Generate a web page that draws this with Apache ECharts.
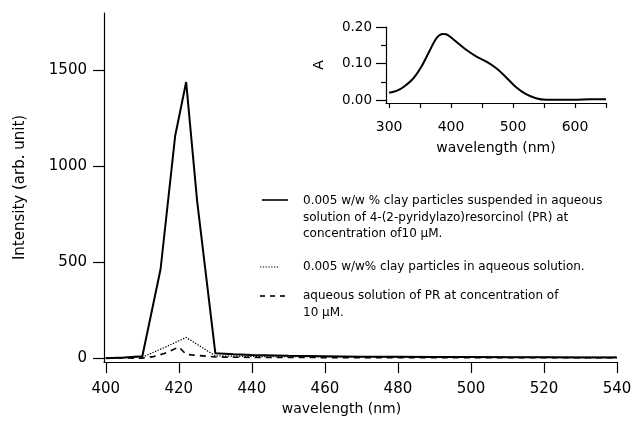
<!DOCTYPE html>
<html>
<head>
<meta charset="utf-8">
<script src="https://cdn.jsdelivr.net/npm/echarts@6/dist/echarts.min.js"></script>
<style>
html,body{margin:0;padding:0;background:#fff;}
#chart{width:635px;height:422px;}
</style>
</head>
<body>
<div id="chart"></div>
<script>
// ---- Main chart data (fluorescence intensity vs wavelength, nm) ----
const solidWl  = [400, 405, 410, 415, 419, 422, 425, 430, 435, 440, 450, 460, 470, 480, 490, 500, 510, 520, 530, 540];
const solidVal = [0, 3, 10, 465, 1160, 1440, 820, 25, 20, 16, 12, 10, 8, 7, 6, 6, 5, 5, 4, 4];

const dottedWl  = [400, 405, 410, 416, 422, 426, 430, 440, 450, 460, 480, 500, 520, 540];
const dottedVal = [0, 2, 5, 55, 108, 60, 12, 9, 8, 7, 6, 5, 5, 6];

const dashedWl  = [400, 405, 410, 413, 416, 420, 422, 425, 428, 430, 440, 460, 480, 500, 520, 540];
const dashedVal = [0, 1, 0, 8, 24, 58, 20, 14, 10, 6, 4, 3, 3, 3, 2, 2];

// ---- Inset data (absorbance vs wavelength, nm) ----
const insetWl = [300, 312, 325, 339, 352, 366, 374, 380, 386, 392, 398, 406, 425, 441, 457, 473, 489, 505, 521, 537, 553, 575, 600, 625, 650];
const insetA  = [0.020, 0.025, 0.038, 0.059, 0.091, 0.137, 0.163, 0.176, 0.181, 0.180, 0.174, 0.163, 0.137, 0.119, 0.105, 0.087, 0.062, 0.035, 0.016, 0.005, 0.001, 0.001, 0.001, 0.002, 0.002];

// ---- Tick labels ----
const mainXTicks = [400, 420, 440, 460, 480, 500, 520, 540];
const mainYTicks = [0, 500, 1000, 1500];
const insetXTicks = [300, 350, 400, 450, 500, 550, 600, 650];
const insetXLabels = [300, 400, 500, 600];
const insetYTicks = [0, 0.10, 0.20];
const insetYMinor = [0.05, 0.15];

// ---- Legend texts ----
const legendTexts = [
  '0.005 w/w % clay particles suspended in aqueous\nsolution of 4-(2-pyridylazo)resorcinol (PR) at\nconcentration of10 μM.',
  '0.005 w/w% clay particles in aqueous solution.',
  'aqueous solution of PR at concentration of\n10 μM.'
];

const pairs = (xs, ys) => xs.map((x, i) => [x, ys[i]]);
const FONT = 'DejaVu Sans';
const black = '#000';

const chart = echarts.init(document.getElementById('chart'));
chart.setOption({
  backgroundColor: '#fff',
  animation: false,
  grid: [
    {left: 104, right: 18, top: 13, bottom: 60},
    {left: 386, right: 29, top: 27, bottom: 319}
  ],
  xAxis: [
    {
      gridIndex: 0, type: 'value', min: 399.5, max: 540,
      name: 'wavelength (nm)', nameLocation: 'middle', nameGap: 36,
      nameTextStyle: {fontFamily: FONT, fontSize: 14, color: black, padding: [0, 38, 0, 0]},
      axisLine: {onZero: false, lineStyle: {color: black, width: 1.2}},
      axisTick: {length: 11, customValues: mainXTicks, lineStyle: {color: black, width: 1.2}},
      axisLabel: {customValues: mainXTicks, margin: 20, fontFamily: FONT, fontSize: 15, color: black,
                  formatter: v => String(v)},
      splitLine: {show: false}
    },
    {
      gridIndex: 1, type: 'value', min: 295, max: 650,
      name: 'wavelength (nm)', nameLocation: 'middle', nameGap: 38,
      nameTextStyle: {fontFamily: FONT, fontSize: 14, color: black},
      axisLine: {onZero: false, lineStyle: {color: black, width: 1.2}},
      axisTick: {length: 5, customValues: insetXTicks, lineStyle: {color: black, width: 1.2}},
      axisLabel: {customValues: insetXLabels, margin: 17, fontFamily: FONT, fontSize: 14, color: black,
                  formatter: v => String(v)},
      splitLine: {show: false}
    }
  ],
  yAxis: [
    {
      gridIndex: 0, type: 'value', min: -20, max: 1800, position: 'left',
      name: 'Intensity (arb. unit)', nameLocation: 'middle', nameGap: 76,
      nameTextStyle: {fontFamily: FONT, fontSize: 15, color: black},
      axisLine: {show: true, onZero: false, lineStyle: {color: black, width: 1.2}},
      axisTick: {show: true, length: 11, customValues: mainYTicks, lineStyle: {color: black, width: 1.2}},
      axisLabel: {customValues: mainYTicks, margin: 17, fontFamily: FONT, fontSize: 15, color: black,
                  formatter: v => String(v)},
      splitLine: {show: false}
    },
    {
      gridIndex: 1, type: 'value', min: -0.008, max: 0.20, position: 'left',
      name: 'A', nameLocation: 'middle', nameGap: 60,
      nameTextStyle: {fontFamily: FONT, fontSize: 14, color: black},
      axisLine: {show: true, onZero: false, lineStyle: {color: black, width: 1.2}},
      axisTick: {show: true, length: 10, customValues: insetYTicks, lineStyle: {color: black, width: 1.2}},
      axisLabel: {customValues: insetYTicks, margin: 14, fontFamily: FONT, fontSize: 13.5, color: black,
                  formatter: v => v.toFixed(2)},
      splitLine: {show: false}
    },
    {
      gridIndex: 1, type: 'value', min: -0.008, max: 0.20, position: 'left', offset: 0,
      axisLine: {show: false, onZero: false},
      axisTick: {show: true, length: 5, customValues: insetYMinor, lineStyle: {color: black, width: 1.2}},
      axisLabel: {show: false},
      splitLine: {show: false}
    }
  ],
  series: [
    {
      type: 'line', xAxisIndex: 0, yAxisIndex: 0, data: pairs(solidWl, solidVal),
      symbol: 'none', lineStyle: {color: black, width: 2}
    },
    {
      type: 'line', xAxisIndex: 0, yAxisIndex: 0, data: pairs(dottedWl, dottedVal),
      symbol: 'none', lineStyle: {color: black, width: 1.3, type: [1.3, 1.5]}
    },
    {
      type: 'line', xAxisIndex: 0, yAxisIndex: 0, data: pairs(dashedWl, dashedVal),
      symbol: 'none', lineStyle: {color: black, width: 1.6, type: [6, 5]}
    },
    {
      type: 'line', xAxisIndex: 1, yAxisIndex: 1, data: pairs(insetWl, insetA),
      symbol: 'none', smooth: 0.3, lineStyle: {color: black, width: 2}
    }
  ],
  graphic: [
    {type: 'line', shape: {x1: 262, y1: 200, x2: 288, y2: 200}, style: {stroke: black, lineWidth: 1.6}},
    {type: 'line', shape: {x1: 260, y1: 267, x2: 279, y2: 267}, style: {stroke: black, lineWidth: 1.2, lineDash: [1.3, 1.5]}},
    {type: 'line', shape: {x1: 260, y1: 296, x2: 287, y2: 296}, style: {stroke: black, lineWidth: 1.6, lineDash: [5, 5]}},
    {type: 'text', x: 303, y: 193, style: {text: legendTexts[0], font: '12px "DejaVu Sans"', fill: black, lineHeight: 16.5, verticalAlign: 'top'}},
    {type: 'text', x: 303, y: 259, style: {text: legendTexts[1], font: '12px "DejaVu Sans"', fill: black, lineHeight: 16.5, verticalAlign: 'top'}},
    {type: 'text', x: 303, y: 288, style: {text: legendTexts[2], font: '12px "DejaVu Sans"', fill: black, lineHeight: 16.5, verticalAlign: 'top'}}
  ]
});
</script>
</body>
</html>
